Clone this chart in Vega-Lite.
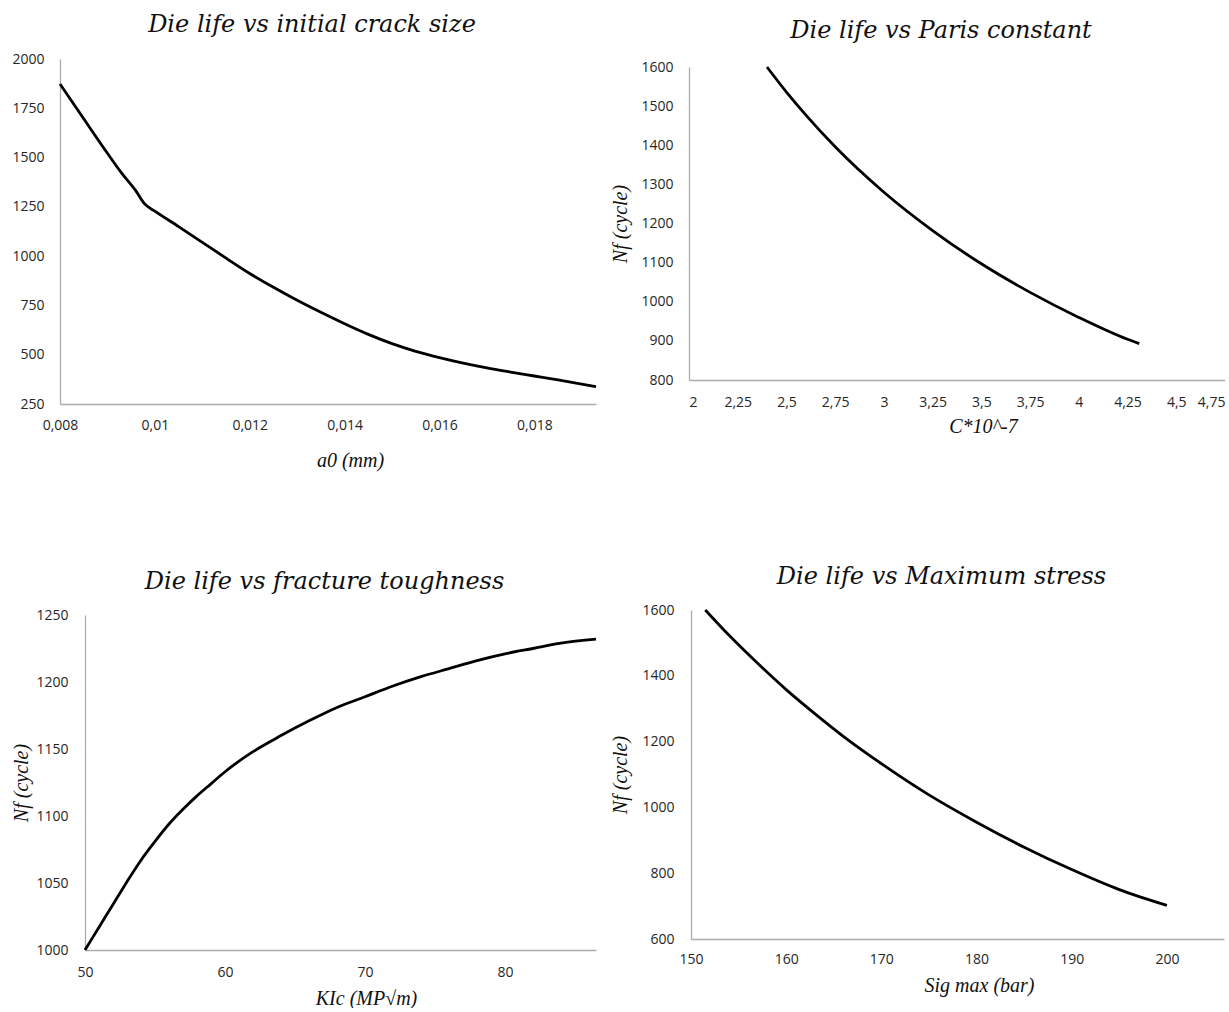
{
  "$schema": "https://vega.github.io/schema/vega-lite/v6.json",
  "background": "white",
  "padding": {"left": 0, "top": 0, "right": 0, "bottom": 0},
  "datasets": {
    "crack": [
      {"a0": 0.008, "Nf": 1873}, {"a0": 0.0085, "Nf": 1697}, {"a0": 0.009, "Nf": 1522},
      {"a0": 0.0093, "Nf": 1421}, {"a0": 0.0096, "Nf": 1331}, {"a0": 0.00978, "Nf": 1266},
      {"a0": 0.01, "Nf": 1228}, {"a0": 0.0105, "Nf": 1150}, {"a0": 0.011, "Nf": 1070},
      {"a0": 0.0115, "Nf": 990}, {"a0": 0.012, "Nf": 912}, {"a0": 0.0125, "Nf": 842},
      {"a0": 0.013, "Nf": 776}, {"a0": 0.0135, "Nf": 715}, {"a0": 0.014, "Nf": 657},
      {"a0": 0.0145, "Nf": 603}, {"a0": 0.015, "Nf": 556}, {"a0": 0.0155, "Nf": 517},
      {"a0": 0.016, "Nf": 485}, {"a0": 0.0165, "Nf": 457}, {"a0": 0.017, "Nf": 433},
      {"a0": 0.0175, "Nf": 412}, {"a0": 0.018, "Nf": 392}, {"a0": 0.0185, "Nf": 372},
      {"a0": 0.0193, "Nf": 338}
    ],
    "paris": [
      {"C": 2.4, "Nf": 1600}, {"C": 2.5, "Nf": 1536}, {"C": 2.6, "Nf": 1477},
      {"C": 2.75, "Nf": 1396}, {"C": 3.0, "Nf": 1280}, {"C": 3.25, "Nf": 1182},
      {"C": 3.5, "Nf": 1097}, {"C": 3.75, "Nf": 1024}, {"C": 4.0, "Nf": 960},
      {"C": 4.25, "Nf": 904}, {"C": 4.31, "Nf": 893}
    ],
    "kic": [
      {"KIc": 50, "Nf": 1000}, {"KIc": 51, "Nf": 1017}, {"KIc": 52, "Nf": 1034},
      {"KIc": 53, "Nf": 1051}, {"KIc": 54, "Nf": 1067}, {"KIc": 55, "Nf": 1081},
      {"KIc": 56, "Nf": 1094}, {"KIc": 57, "Nf": 1105}, {"KIc": 58, "Nf": 1115},
      {"KIc": 59, "Nf": 1124}, {"KIc": 60, "Nf": 1133}, {"KIc": 62, "Nf": 1148},
      {"KIc": 64, "Nf": 1160}, {"KIc": 66, "Nf": 1171}, {"KIc": 68, "Nf": 1181},
      {"KIc": 70, "Nf": 1189}, {"KIc": 72, "Nf": 1197}, {"KIc": 74, "Nf": 1204},
      {"KIc": 76, "Nf": 1210}, {"KIc": 78, "Nf": 1216}, {"KIc": 80, "Nf": 1221},
      {"KIc": 82, "Nf": 1225}, {"KIc": 84, "Nf": 1229}, {"KIc": 86.5, "Nf": 1232}
    ],
    "sig": [
      {"sig": 151.5, "Nf": 1600}, {"sig": 154, "Nf": 1523}, {"sig": 157, "Nf": 1438},
      {"sig": 160, "Nf": 1358}, {"sig": 163, "Nf": 1285}, {"sig": 166, "Nf": 1216},
      {"sig": 170, "Nf": 1133}, {"sig": 175, "Nf": 1038}, {"sig": 180, "Nf": 955},
      {"sig": 185, "Nf": 879}, {"sig": 190, "Nf": 811}, {"sig": 195, "Nf": 750},
      {"sig": 200, "Nf": 702}
    ]
  },
  "config": {
    "view": {"stroke": null},
    "axis": {
      "grid": false, "ticks": false, "tickSize": 0,
      "domainColor": "#ababab", "domainWidth": 1.3,
      "labelFont": "Open Sans", "labelFontSize": 14, "labelColor": "#262626",
      "titleFont": "Liberation Serif", "titleFontStyle": "italic", "titleFontWeight": "normal",
      "titleFontSize": 20, "titleColor": "#111111"
    },
    "axisX": {"labelPadding": 14, "titleBaseline": "alphabetic", "labelFlush": false},
    "axisY": {"labelPadding": 16, "titlePadding": 10},
    "title": {
      "font": "DejaVu Serif", "fontStyle": "italic", "fontWeight": "normal", "fontSize": 24,
      "color": "#111111", "baseline": "alphabetic", "frame": "group", "anchor": "middle", "dx": -16
    },
    "line": {"color": "black", "strokeWidth": 2.8, "interpolate": "monotone"}
  },
  "columns": 2,
  "align": "none",
  "spacing": 0,
  "concat": [
    {
      "columns": 2, "align": "none", "spacing": 0,
      "concat": [
        {"width": 1, "height": 1, "data": {"values": []}, "mark": "point"},
        {"width": 1, "height": 13, "data": {"values": []}, "mark": "point"},
        {"width": 11, "height": 1, "data": {"values": []}, "mark": "point"},
        {
          "width": 536, "height": 345,
          "title": {"text": "Die life vs initial crack size", "offset": 15},
          "data": {"name": "crack"},
          "mark": {"type": "line"},
          "encoding": {
            "x": {"field": "a0", "type": "quantitative",
              "scale": {"domain": [0.008, 0.0193], "nice": false, "zero": false},
              "axis": {"values": [0.008, 0.01, 0.012, 0.014, 0.016, 0.018],
                "labelExpr": "replace(format(datum.value, '.3~f'), '.', ',')",
                "title": "a0 (mm)", "titleX": 290, "titleY": 62}},
            "y": {"field": "Nf", "type": "quantitative",
              "scale": {"domain": [250, 2000], "nice": false, "zero": false},
              "axis": {"values": [250, 500, 750, 1000, 1250, 1500, 1750, 2000], "format": "d", "title": null}}
          }
        },
        {"width": 1, "height": 1, "data": {"values": []}, "mark": "point"},
        {"width": 1, "height": 100, "data": {"values": []}, "mark": "point"},
        {"width": 11, "height": 1, "data": {"values": []}, "mark": "point"},
        {
          "width": 511, "height": 335,
          "title": {"text": "Die life vs fracture toughness", "offset": 14},
          "data": {"name": "kic"},
          "mark": {"type": "line"},
          "encoding": {
            "x": {"field": "KIc", "type": "quantitative",
              "scale": {"domain": [50, 86.5], "nice": false, "zero": false},
              "axis": {"values": [50, 60, 70, 80], "format": "d", "labelPadding": 15,
                "title": "KIc (MP√m)", "titleX": 281, "titleY": 54}},
            "y": {"field": "Nf", "type": "quantitative",
              "scale": {"domain": [1000, 1250], "nice": false, "zero": false},
              "axis": {"values": [1000, 1050, 1100, 1150, 1200, 1250], "format": "d",
                "labelPadding": 17, "titlePadding": 4, "title": "Nf (cycle)"}}
          }
        }
      ]
    },
    {
      "columns": 2, "align": "none", "spacing": 0,
      "concat": [
        {"width": 1, "height": 1, "data": {"values": []}, "mark": "point"},
        {"width": 1, "height": 19, "data": {"values": []}, "mark": "point"},
        {"width": 8, "height": 1, "data": {"values": []}, "mark": "point"},
        {
          "width": 536, "height": 313,
          "title": {"text": "Die life vs Paris constant", "offset": 17},
          "data": {"name": "paris"},
          "mark": {"type": "line"},
          "encoding": {
            "x": {"field": "C", "type": "quantitative",
              "scale": {"domain": [2, 4.75], "nice": false, "zero": false},
              "axis": {"values": [2, 2.25, 2.5, 2.75, 3, 3.25, 3.5, 3.75, 4, 4.25, 4.5, 4.75],
                "labelExpr": "replace(format(datum.value, '.2~f'), '.', ',')",
                "labelFlush": true, "labelPadding": 15,
                "title": "C*10^-7", "titleX": 294, "titleY": 52}},
            "y": {"field": "Nf", "type": "quantitative",
              "scale": {"domain": [800, 1600], "nice": false, "zero": false},
              "axis": {"values": [800, 900, 1000, 1100, 1200, 1300, 1400, 1500, 1600], "format": "d", "title": "Nf (cycle)"}}
          }
        },
        {"width": 1, "height": 1, "data": {"values": []}, "mark": "point"},
        {"width": 1, "height": 129, "data": {"values": []}, "mark": "point"},
        {"width": 8, "height": 1, "data": {"values": []}, "mark": "point"},
        {
          "width": 533, "height": 329,
          "title": {"text": "Die life vs Maximum stress", "offset": 14},
          "data": {"name": "sig"},
          "mark": {"type": "line"},
          "encoding": {
            "x": {"field": "sig", "type": "quantitative",
              "scale": {"domain": [150, 206], "nice": false, "zero": false},
              "axis": {"values": [150, 160, 170, 180, 190, 200], "format": "d", "labelPadding": 13,
                "title": "Sig max (bar)", "titleX": 288, "titleY": 52}},
            "y": {"field": "Nf", "type": "quantitative",
              "scale": {"domain": [600, 1600], "nice": false, "zero": false},
              "axis": {"values": [600, 800, 1000, 1200, 1400, 1600], "format": "d",
                "labelPadding": 17, "titlePadding": 11, "title": "Nf (cycle)"}}
          }
        }
      ]
    }
  ]
}
